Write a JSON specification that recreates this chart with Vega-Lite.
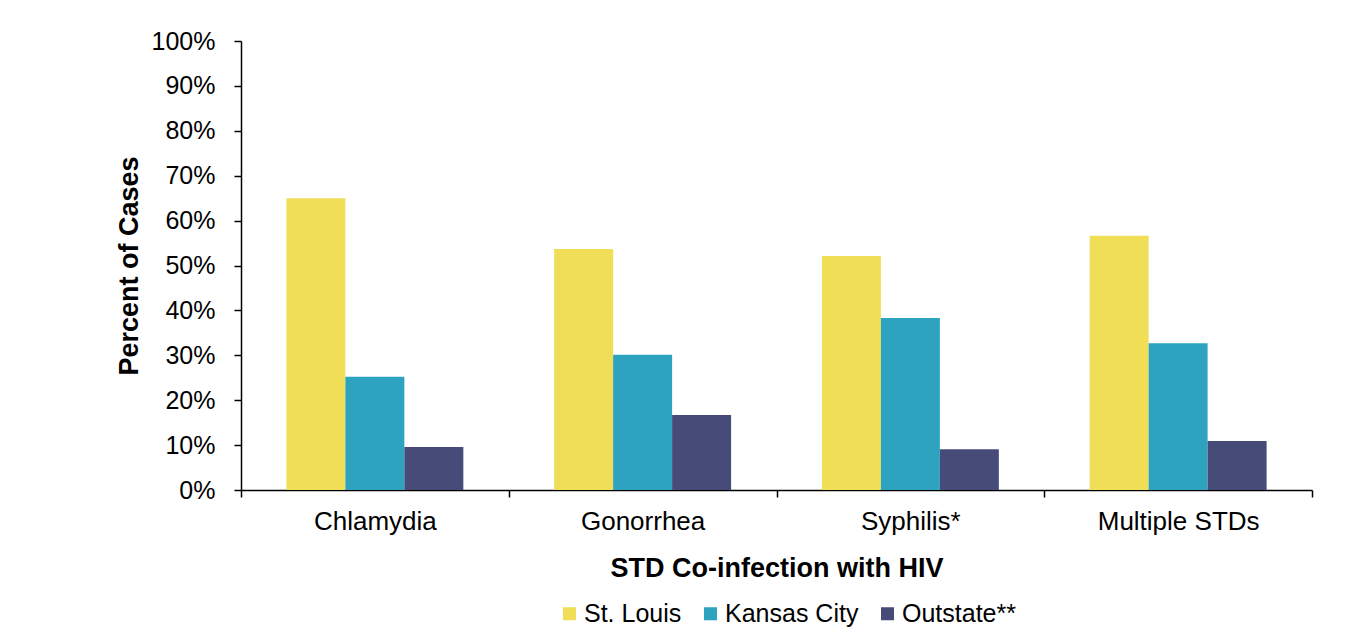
{
  "$schema": "https://vega.github.io/schema/vega-lite/v6.json",
  "autosize": {"type": "none"},
  "padding": {"left": 241, "top": 41, "right": 36, "bottom": 151},
  "width": 1071,
  "height": 449,
  "background": "white",
  "config": {
    "font": "Liberation Sans",
    "view": {"stroke": null},
    "axis": {"grid": false, "domainColor": "black", "tickColor": "black", "domainWidth": 1.5, "tickWidth": 1.5, "labelColor": "black", "titleColor": "black", "labelFont": "Liberation Sans", "titleFont": "Liberation Sans"}
  },
  "data": {
    "values": [
      {"infection": "Chlamydia", "region": "St. Louis", "pct": 0.650},
      {"infection": "Chlamydia", "region": "Kansas City", "pct": 0.252},
      {"infection": "Chlamydia", "region": "Outstate**", "pct": 0.096},
      {"infection": "Gonorrhea", "region": "St. Louis", "pct": 0.537},
      {"infection": "Gonorrhea", "region": "Kansas City", "pct": 0.301},
      {"infection": "Gonorrhea", "region": "Outstate**", "pct": 0.167},
      {"infection": "Syphilis*", "region": "St. Louis", "pct": 0.521},
      {"infection": "Syphilis*", "region": "Kansas City", "pct": 0.383},
      {"infection": "Syphilis*", "region": "Outstate**", "pct": 0.091},
      {"infection": "Multiple STDs", "region": "St. Louis", "pct": 0.566},
      {"infection": "Multiple STDs", "region": "Kansas City", "pct": 0.327},
      {"infection": "Multiple STDs", "region": "Outstate**", "pct": 0.109}
    ]
  },
  "mark": {"type": "bar"},
  "encoding": {
    "x": {
      "field": "infection", "type": "nominal", "sort": null,
      "scale": {"paddingInner": 0, "paddingOuter": 0},
      "axis": {"title": "STD Co-infection  with HIV", "labelAngle": 0, "labelFontSize": 26, "titleFontSize": 27, "titleFontWeight": "bold", "tickSize": 7, "labelPadding": 11, "titlePadding": 21, "tickBand": "extent"}
    },
    "xOffset": {"field": "region", "type": "nominal", "sort": ["St. Louis", "Kansas City", "Outstate**"], "scale": {"paddingInner": 0, "paddingOuter": 0.77}},
    "y": {
      "field": "pct", "type": "quantitative",
      "scale": {"domain": [0, 1]},
      "axis": {"title": "Percent of Cases", "format": ".0%", "values": [0, 0.1, 0.2, 0.3, 0.4, 0.5, 0.6, 0.7, 0.8, 0.9, 1], "labelFontSize": 25, "titleFontSize": 27, "titleFontWeight": "bold", "tickSize": 7, "labelPadding": 19, "titlePadding": 8}
    },
    "color": {
      "field": "region", "type": "nominal",
      "sort": ["St. Louis", "Kansas City", "Outstate**"],
      "scale": {"domain": ["St. Louis", "Kansas City", "Outstate**"], "range": ["#F0DF56", "#2EA3C0", "#474B77"]},
      "legend": {"title": null, "orient": "none", "legendX": 316, "legendY": 560, "direction": "horizontal", "symbolType": "square", "symbolSize": 169, "symbolStrokeWidth": 0, "labelFontSize": 25, "labelColor": "black", "labelOffset": 2, "columnPadding": 16, "labelFont": "Liberation Sans"}
    }
  }
}
